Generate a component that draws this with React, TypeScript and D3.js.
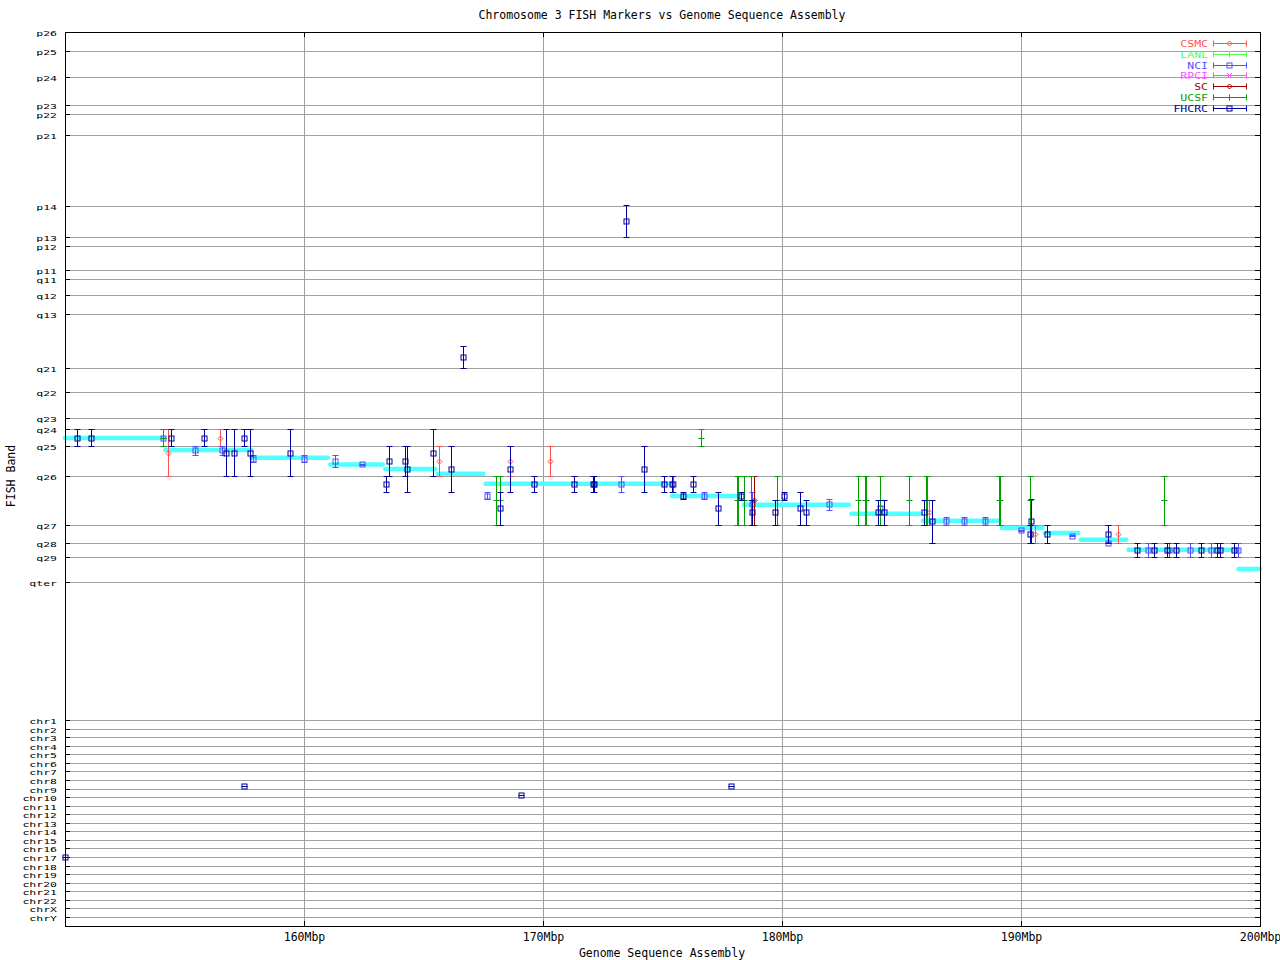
import React from "react";
import * as d3 from "d3";

// ---------- data ----------
const title = "Chromosome 3 FISH Markers vs Genome Sequence Assembly";
const xLabel = "Genome Sequence Assembly";
const yLabel = "FISH Band";

const xTicks = [160, 170, 180, 190, 200];

// cytogenetic band labels and their band coordinate (arbitrary band units, p26 = 0, qter = 200)
const bandNames = ["p26", "p25", "p24", "p23", "p22", "p21", "p14", "p13", "p12", "p11", "q11", "q12", "q13", "q21", "q22", "q23", "q24", "q25", "q26", "q27", "q28", "q29", "qter"];
const bandPos = [0, 6.9, 16.4, 26.5, 29.8, 37.5, 63.3, 74.5, 77.8, 86.5, 89.8, 95.6, 102.5, 122.2, 130.9, 140.4, 144.4, 150.5, 161.5, 179.3, 185.8, 190.9, 200];

const chrNames = ["chr1", "chr2", "chr3", "chr4", "chr5", "chr6", "chr7", "chr8", "chr9", "chr10", "chr11", "chr12", "chr13", "chr14", "chr15", "chr16", "chr17", "chr18", "chr19", "chr20", "chr21", "chr22", "chrX", "chrY"];

// expected band along the sequence (cyan steps): start Mbp, end Mbp, band coordinate
const stepStart = [150.0, 154.2, 157.8, 161.1, 163.4, 165.6, 167.6, 175.4, 178.4, 182.9, 185.9, 189.2, 191.0, 192.5, 194.5, 199.1];
const stepEnd = [154.14, 157.8, 161.0, 163.3, 165.5, 167.5, 175.3, 178.2, 182.8, 185.8, 189.1, 190.9, 192.4, 194.4, 199.1, 200.0];
const stepLevel = [147.6, 152.0, 154.8, 157.3, 158.9, 160.6, 164.3, 168.7, 171.9, 175.2, 177.7, 180.4, 182.2, 184.6, 188.3, 195.3];

// markers: [Mbp, band, bandLow, bandHigh]
const fhcrc = [
  [150.51, 147.7, 144.4, 150.5], [151.09, 147.7, 144.4, 150.5], [154.45, 147.7, 144.4, 150.5], [155.83, 147.7, 144.4, 150.5],
  [156.74, 153.2, 144.4, 161.5], [157.07, 153.2, 144.4, 161.5], [157.5, 147.7, 144.4, 150.5], [157.75, 153.2, 144.4, 161.5],
  [159.41, 153.2, 144.4, 161.5], [163.42, 164.5, 161.5, 167.4], [163.57, 156.1, 150.5, 161.5], [164.24, 156.1, 150.5, 161.5],
  [164.32, 159.0, 150.5, 167.4], [165.41, 153.2, 144.4, 161.5], [166.16, 159.0, 150.5, 167.4], [166.67, 118.3, 114.3, 122.3],
  [168.21, 173.2, 167.4, 179.3], [168.63, 159.0, 150.5, 167.4], [169.64, 164.5, 161.5, 167.4], [171.31, 164.5, 161.5, 167.4],
  [172.08, 164.5, 161.5, 167.4], [172.13, 164.5, 161.5, 167.4], [173.46, 68.8, 63.0, 74.7], [174.24, 159.0, 150.5, 167.4],
  [175.08, 164.5, 161.5, 167.4], [175.38, 164.5, 161.5, 167.4], [175.87, 168.8, 167.4, 169.9], [176.29, 164.5, 161.5, 167.4],
  [177.33, 173.2, 167.4, 179.3], [178.3, 168.8, 167.4, 170.3], [178.76, 174.7, 170.3, 179.3], [179.72, 174.7, 170.3, 179.3],
  [180.1, 168.8, 167.4, 170.3], [180.77, 173.2, 167.4, 179.3], [181.02, 174.7, 170.3, 179.3], [184.03, 174.7, 170.3, 179.3],
  [184.28, 174.7, 170.3, 179.3], [185.95, 174.7, 170.3, 179.3], [186.29, 177.9, 170.3, 185.8], [190.39, 182.7, 179.3, 185.8],
  [190.43, 177.9, 169.9, 185.8], [191.1, 182.7, 179.3, 185.8], [193.65, 182.7, 179.3, 185.8], [194.87, 188.4, 185.8, 190.9],
  [195.58, 188.4, 185.8, 190.9], [196.12, 188.4, 185.8, 190.9], [196.5, 188.4, 185.8, 190.9], [197.54, 188.4, 185.8, 190.9],
  [198.21, 188.4, 185.8, 190.9], [198.33, 188.4, 185.8, 190.9], [198.92, 188.4, 185.8, 190.9],
];
const nci = [
  [154.08, 147.7, 144.4, 150.5], [155.45, 152.0, 150.5, 153.9], [156.58, 152.0, 150.5, 153.9], [157.85, 155.3, 153.9, 156.5],
  [160.01, 155.3, 153.9, 156.5], [161.31, 156.1, 153.9, 158.3], [162.44, 157.2, 157.0, 157.4], [167.67, 168.8, 167.4, 169.9],
  [173.28, 164.5, 161.5, 167.4], [175.43, 164.5, 161.5, 167.4], [176.75, 168.8, 167.4, 169.9], [178.74, 171.7, 167.4, 179.3],
  [181.98, 171.7, 169.9, 173.9], [184.1, 173.2, 172.2, 175.2], [186.87, 177.9, 176.5, 179.3], [187.63, 177.9, 176.5, 179.3],
  [188.51, 177.9, 176.5, 179.3], [190.01, 181.2, 181.0, 181.4], [192.15, 183.2, 183.0, 183.4], [193.65, 185.7, 185.5, 185.9],
  [195.33, 188.4, 185.8, 190.9], [196.21, 188.4, 185.8, 190.9], [197.08, 188.4, 185.8, 190.9], [197.96, 188.4, 185.8, 190.9],
  [199.09, 188.4, 185.8, 190.9],
];
const csmc = [
  [154.31, 153.2, 144.4, 161.5], [156.5, 147.7, 144.4, 150.5], [165.66, 156.1, 150.5, 161.5], [168.63, 156.1, 150.5, 161.5],
  [170.31, 156.1, 150.5, 161.5], [186.14, 174.7, 170.3, 179.3], [190.6, 182.7, 179.3, 185.8], [194.07, 182.7, 179.3, 185.8],
];
const sc = [[178.84, 170.3, 161.5, 179.3]];
const ucsf = [
  [154.1, 147.7, 144.4, 150.5], [168.02, 170.3, 161.5, 179.3], [168.19, 170.3, 161.5, 179.3], [176.62, 147.7, 144.4, 150.5],
  [178.1, 170.3, 161.5, 179.3], [178.17, 170.3, 161.5, 179.3], [178.42, 170.3, 161.5, 179.3], [178.7, 170.3, 161.5, 179.3],
  [179.8, 170.3, 161.5, 179.3], [183.19, 170.3, 161.5, 179.3], [183.48, 170.3, 161.5, 179.3], [183.53, 170.3, 161.5, 179.3],
  [184.1, 170.3, 161.5, 179.3], [185.33, 170.3, 161.5, 179.3], [186.03, 170.3, 161.5, 179.3], [186.08, 170.3, 161.5, 179.3],
  [189.07, 170.3, 161.5, 179.3], [189.12, 170.3, 161.5, 179.3], [190.39, 170.3, 161.5, 179.3], [196.0, 170.3, 161.5, 179.3],
];
// markers mapped to other chromosomes: [Mbp, chromosome index (1 = chr1)]
const fhcrcOther = [[157.5, 8.75], [169.09, 9.75], [177.87, 8.75], [150.02, 17.05]];

const legendNames = ["CSMC", "LANL", "NCI", "RPCI", "SC", "UCSF", "FHCRC"];
const legendColors = ["#ff5050", "#50ff50", "#5050ff", "#ff50ff", "#a00000", "#00a000", "#0000a0"];
const legendSymbols = ["diamond", "plus", "box", "cross", "diamond", "plus", "box"];

// ---------- drawing ----------
const W = 1280, H = 960;
const L = 65, R = 1260, T = 32, B = 926;
const FONT = "'DejaVu Sans Mono', 'Liberation Mono', monospace";
const GRID = "#a0a0a0";

const x = d3.scaleLinear().domain([150, 200]).range([L, R]);
const yBand = d3.scaleLinear().domain([0, 200]).range([T, 582]);
const yChr = d3.scaleLinear().domain([1, 24]).range([720, 917]);

function Symbol({ type, cx, cy, color, orient = "v" }: any) {
  if (type === "box") return <rect x={cx - 2.5} y={cy - 2.5} width={5} height={5} fill="none" stroke={color} strokeWidth={1} />;
  if (type === "diamond") return <path d={`M${cx - 2.5},${cy}L${cx},${cy - 2.5}L${cx + 2.5},${cy}L${cx},${cy + 2.5}Z`} fill="none" stroke={color} strokeWidth={1} />;
  if (type === "cross") return <path d={`M${cx - 2.5},${cy - 2.5}L${cx + 2.5},${cy + 2.5}M${cx - 2.5},${cy + 2.5}L${cx + 2.5},${cy - 2.5}`} stroke={color} strokeWidth={1} />;
  return orient === "v"
    ? <line x1={cx - 3} x2={cx + 3} y1={cy} y2={cy} stroke={color} strokeWidth={1} />
    : <line x1={cx} x2={cx} y1={cy - 3} y2={cy + 3} stroke={color} strokeWidth={1} />;
}

function ErrBar({ d, color, type }: any) {
  const cx = Math.round(x(d[0])) + 0.5;
  const cy = yBand(d[1]);
  const y1 = Math.round(yBand(d[2])) + 0.5;
  const y2 = Math.round(yBand(d[3])) + 0.5;
  return (
    <g>
      <line x1={cx} x2={cx} y1={y1} y2={y2} stroke={color} strokeWidth={1} />
      <line x1={cx - 3} x2={cx + 3} y1={y1} y2={y1} stroke={color} strokeWidth={1} />
      <line x1={cx - 3} x2={cx + 3} y1={y2} y2={y2} stroke={color} strokeWidth={1} />
      <Symbol type={type} cx={cx} cy={Math.round(cy) + 0.5} color={color} />
    </g>
  );
}

function YLabel({ y, text, sy }: any) {
  return (
    <text transform={`translate(57,${y + 3.5}) scale(1,${sy})`} textAnchor="end">{text}</text>
  );
}

export default function App() {
  const series = [
    { data: csmc, color: legendColors[0], type: "diamond" },
    { data: nci, color: legendColors[2], type: "box" },
    { data: sc, color: legendColors[4], type: "diamond" },
    { data: ucsf, color: legendColors[5], type: "plus" },
    { data: fhcrc, color: legendColors[6], type: "box" },
  ];
  return (
    <svg width={W} height={H} style={{ position: "absolute", left: 0, top: 0, background: "#fff" }} fontFamily={FONT} fontSize={11.5}>
      <rect width={W} height={H} fill="#fff" />
      {bandNames.map((b, i) => {
        const yy = Math.round(yBand(bandPos[i])) + 0.5;
        return (
          <g key={b}>
            {i > 0 && <line x1={L} x2={R} y1={yy} y2={yy} stroke={GRID} strokeWidth={1} />}
            <line x1={L} x2={L + 5} y1={yy} y2={yy} stroke="#000" />
            <line x1={R - 5} x2={R} y1={yy} y2={yy} stroke="#000" />
            <YLabel y={yy} text={b} sy={0.66} />
          </g>
        );
      })}
      {chrNames.map((c, i) => {
        const yy = Math.round(yChr(i + 1)) + 0.5;
        return (
          <g key={c}>
            <line x1={L} x2={R} y1={yy} y2={yy} stroke={GRID} strokeWidth={1} />
            <line x1={L} x2={L + 5} y1={yy} y2={yy} stroke="#000" />
            <line x1={R - 5} x2={R} y1={yy} y2={yy} stroke="#000" />
            <YLabel y={yy} text={c} sy={0.62} />
          </g>
        );
      })}
      {xTicks.map((t) => {
        const xx = Math.round(x(t)) + 0.5;
        return (
          <g key={t}>
            {t < 200 && <line x1={xx} x2={xx} y1={T} y2={B} stroke={GRID} strokeWidth={1} />}
            <line x1={xx} x2={xx} y1={B} y2={B - 5} stroke="#000" />
            <line x1={xx} x2={xx} y1={T} y2={T + 5} stroke="#000" />
            <text x={xx} y={941} textAnchor="middle">{t}Mbp</text>
          </g>
        );
      })}
      {stepStart.map((s, i) => (
        <line key={i} x1={x(s)} x2={x(stepEnd[i])} y1={yBand(stepLevel[i])} y2={yBand(stepLevel[i])} stroke="#50ffff" strokeWidth={4.5} strokeLinecap="round" />
      ))}
      {series.map((s, si) => (
        <g key={si}>
          {s.data.map((d, i) => <ErrBar key={i} d={d} color={s.color} type={s.type} />)}
        </g>
      ))}
      {fhcrcOther.map((d, i) => {
        const cx = Math.round(x(d[0])) + 0.5;
        const cy = Math.round(yChr(d[1])) + 0.5;
        return (
          <g key={i}>
            <rect x={cx - 2.5} y={cy - 2.5} width={5} height={5} fill="none" stroke={legendColors[6]} />
            <line x1={cx - 3} x2={cx + 3} y1={cy} y2={cy} stroke={legendColors[6]} />
          </g>
        );
      })}
      <rect x={L + 0.5} y={T + 0.5} width={R - L} height={B - T} fill="none" stroke="#000" strokeWidth={1} />
      {legendNames.map((n, i) => {
        const yy = Math.round(43 + i * 10.8) + 0.5;
        const c = legendColors[i];
        return (
          <g key={n}>
            <text transform={`translate(1208,${yy + 3.5}) scale(1,0.8)`} textAnchor="end" fill={c}>{n}</text>
            <line x1={1213} x2={1247} y1={yy} y2={yy} stroke={c} />
            <line x1={1213.5} x2={1213.5} y1={yy - 3} y2={yy + 3} stroke={c} />
            <line x1={1246.5} x2={1246.5} y1={yy - 3} y2={yy + 3} stroke={c} />
            <Symbol type={legendSymbols[i]} cx={1229.5} cy={yy} color={c} orient="h" />
          </g>
        );
      })}
      <text x={662} y={19} textAnchor="middle">{title}</text>
      <text x={662} y={957} textAnchor="middle">{xLabel}</text>
      <text transform="translate(15,476) rotate(-90)" textAnchor="middle">{yLabel}</text>
    </svg>
  );
}
